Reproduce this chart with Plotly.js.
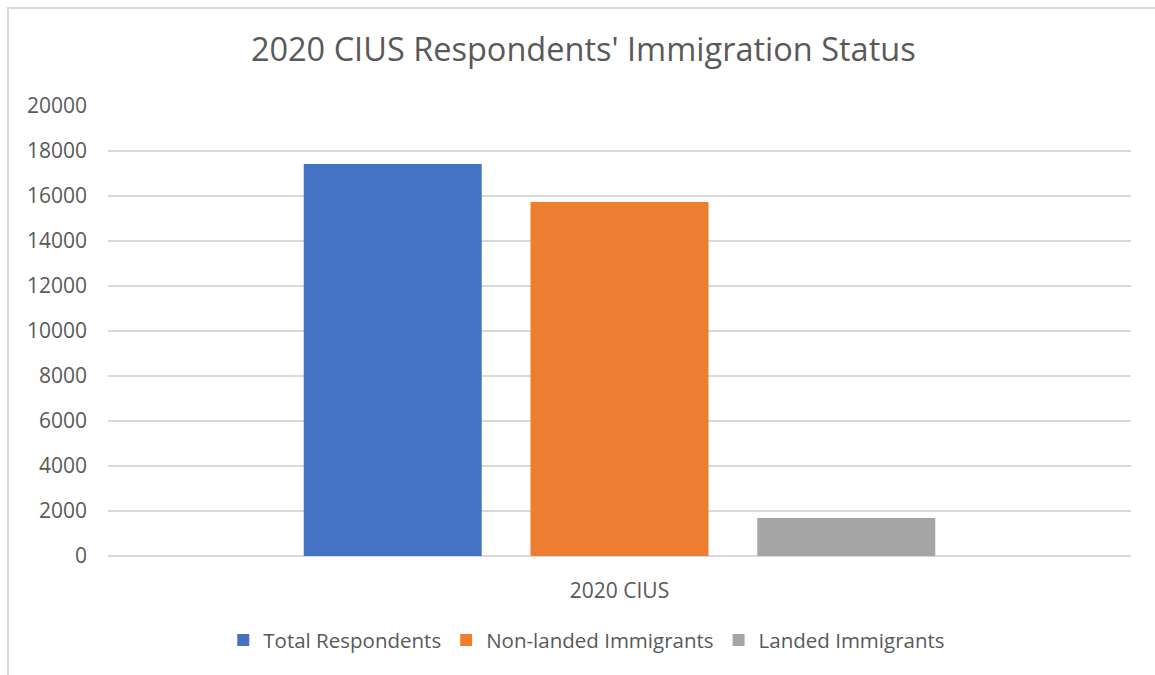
<!DOCTYPE html>
<html>
<head>
<meta charset="utf-8">
<script src="https://cdn.plot.ly/plotly-3.0.1.min.js"></script>
<style>
  html, body { margin: 0; padding: 0; background: #fff; }
  #chart { width: 1155px; height: 675px; }
  #frame { position: absolute; left: 7px; top: 7px; width: 1150px; height: 670px;
           border-left: 2px solid #d9d9d9; border-top: 2px solid #d9d9d9; pointer-events: none; }
</style>
</head>
<body>
<div id="chart"></div>
<div id="frame"></div>
<script>
const categories = ["2020 CIUS"];
const seriesNames = ["Total Respondents", "Non-landed Immigrants", "Landed Immigrants"];
const totalRespondents = [17420];
const nonLandedImmigrants = [15730];
const landedImmigrants = [1690];
const seriesColors = ["#4472c4", "#ed7d31", "#a5a5a5"];
const yTickValues = [0, 2000, 4000, 6000, 8000, 10000, 12000, 14000, 16000, 18000, 20000];

const values = [totalRespondents, nonLandedImmigrants, landedImmigrants];
const traces = values.map((v, i) => ({
  type: "bar",
  name: seriesNames[i],
  x: categories,
  y: v,
  marker: { color: seriesColors[i] },
  hoverinfo: "name+y"
}));

const fontFamily = "Open Sans, sans-serif";
const layout = {
  width: 1155,
  height: 675,
  margin: { l: 108, r: 24, t: 106, b: 119 },
  paper_bgcolor: "#ffffff",
  plot_bgcolor: "#ffffff",
  font: { family: fontFamily, color: "#595959", size: 21 },
  title: {
    text: "2020 CIUS Respondents' Immigration Status",
    font: { family: fontFamily, size: 32.5, color: "#595959" },
    x: 0.505, xanchor: "center",
    y: 1 - 50 / 675, yanchor: "middle", yref: "container"
  },
  barmode: "group",
  bargap: 0.335,
  bargroupgap: 0.215,
  showlegend: true,
  legend: {
    orientation: "h",
    x: 0.468, xanchor: "center",
    y: -0.187, yanchor: "middle",
    font: { family: fontFamily, size: 20.5, color: "#595959" },
    itemwidth: 30,
    traceorder: "normal"
  },
  xaxis: {
    type: "category",
    showgrid: false,
    showline: false,
    zeroline: false,
    ticks: "",
    ticklabelstandoff: 20,
    tickfont: { family: fontFamily, size: 21, color: "#595959" }
  },
  yaxis: {
    range: [0, 20000],
    tickvals: yTickValues,
    ticktext: yTickValues.map(String),
    showgrid: true,
    gridcolor: "#d9d9d9",
    gridwidth: 1.5,
    zeroline: true,
    zerolinecolor: "#d9d9d9",
    zerolinewidth: 1.5,
    showline: false,
    ticks: "",
    ticklabelstandoff: 20,
    tickfont: { family: fontFamily, size: 21, color: "#595959" }
  }
};

Plotly.newPlot("chart", traces, layout, { displayModeBar: false, staticPlot: true });
</script>
</body>
</html>
